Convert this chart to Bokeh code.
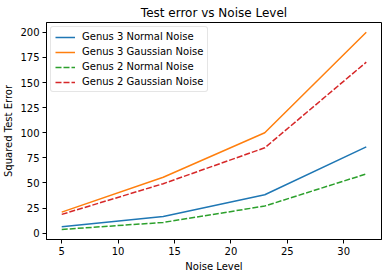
from bokeh.plotting import figure
from bokeh.models import FixedTicker, Range1d, Legend, LegendItem
from bokeh.embed import file_html
from bokeh.resources import INLINE

noise = [5, 14, 23, 32]
g3_normal = [6.3, 16.7, 38.3, 86]
g3_gauss = [21, 55.7, 100, 200]
g2_normal = [3.7, 10.7, 27, 59]
g2_gauss = [18.7, 49.3, 85, 170.3]
x_ticks = [5, 10, 15, 20, 25, 30]
y_ticks = [0, 25, 50, 75, 100, 125, 150, 175, 200]

FONT = "DejaVu Sans"

p = figure(width=380, height=270, output_backend="svg", toolbar_location=None,
           x_range=Range1d(3.65, 33.35), y_range=Range1d(-6.3, 209.8),
           min_border_left=39, min_border_right=6, min_border_top=15, min_border_bottom=38,
           title="Test error vs Noise Level")
p.frame_width = 335
p.frame_height = 217
p.title.align = "center"
p.title.text_font = FONT
p.title.text_font_size = "12px"
p.title.text_font_style = "normal"
p.title.text_color = "black"
p.title.standoff = 6
p.outline_line_color = "black"
p.outline_line_width = 1
p.outline_line_alpha = 1
p.grid.visible = False

for ax in (p.xaxis[0], p.yaxis[0]):
    ax.major_label_text_font = FONT
    ax.major_label_text_font_size = "10px"
    ax.major_label_text_color = "black"
    ax.axis_label_text_font = FONT
    ax.axis_label_text_font_size = "10px"
    ax.axis_label_text_font_style = "normal"
    ax.axis_label_text_color = "black"
    ax.minor_tick_line_color = None
    ax.major_tick_in = 0
    ax.major_tick_out = 4
    ax.major_tick_line_color = "black"
    ax.axis_line_color = "black"

p.xaxis.ticker = FixedTicker(ticks=x_ticks)
p.yaxis.ticker = FixedTicker(ticks=y_ticks)
p.xaxis.axis_label = "Noise Level"
p.yaxis.axis_label = "Squared Test Error"
p.xaxis.major_label_standoff = 3
p.yaxis.major_label_standoff = 3
p.xaxis.axis_label_standoff = 3
p.yaxis.axis_label_standoff = 3

r1 = p.line(noise, g3_normal, line_color="#1f77b4", line_width=1.5)
r2 = p.line(noise, g3_gauss, line_color="#ff7f0e", line_width=1.5)
r3 = p.line(noise, g2_normal, line_color="#2ca02c", line_width=1.5, line_dash="6 2")
r4 = p.line(noise, g2_gauss, line_color="#d62728", line_width=1.5, line_dash="6 2")

legend = Legend(items=[
    LegendItem(label="Genus 3 Normal Noise", renderers=[r1]),
    LegendItem(label="Genus 3 Gaussian Noise", renderers=[r2]),
    LegendItem(label="Genus 2 Normal Noise", renderers=[r3]),
    LegendItem(label="Genus 2 Gaussian Noise", renderers=[r4]),
], location="top_left")
legend.label_text_font = FONT
legend.label_text_font_size = "10px"
legend.label_text_color = "black"
legend.glyph_width = 20
legend.glyph_height = 10
legend.label_height = 10
legend.spacing = 4
legend.padding = 4
legend.margin = 4
legend.label_standoff = 7
legend.border_line_color = "#cccccc"
legend.border_line_width = 1
legend.border_radius = 3
legend.background_fill_alpha = 0.8
p.add_layout(legend)

open("out.html", "w").write(file_html(p, INLINE))
